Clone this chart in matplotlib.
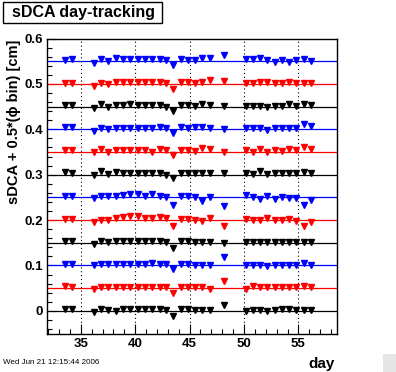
import numpy as np
import matplotlib
matplotlib.use('Agg')
import matplotlib.pyplot as plt
from matplotlib.patches import Rectangle
from matplotlib.ticker import MultipleLocator

plt.rcParams['font.family'] = ['Liberation Sans', 'DejaVu Sans']

# run days (same for every phi bin)
days = [33.56, 34.23, 36.19, 36.87, 37.51, 38.22, 38.89, 39.56, 40.24, 40.91,
        41.58, 42.26, 42.87, 43.48, 44.20, 44.89, 45.51, 46.18, 46.88, 48.17,
        50.19, 50.83, 51.48, 52.15, 52.86, 53.47, 54.15, 54.79, 55.52, 56.19]

# sDCA per phi bin, in units of 0.001 cm
sdca_bin0 = [3, 3, -3, 4, 1, 0, 3, 3, 3, 3, 3, 3, 2, -12, 3, 3,
             2, 2, 2, 12, -1, 2, 2, 0, 2, 4, 4, 2, 2, 2]
sdca_bin1 = [5, 3, -2, 3, 3, 3, 3, 3, 3, 3, 3, 3, 2, -10, 2, 2,
             3, 3, -1, 15, -1, 5, 3, 3, 3, 3, 3, 3, 5, 3]
sdca_bin2 = [4, 3, 0, 3, 3, 3, 3, 3, 3, 3, 6, 3, 3, -8, 3, 3,
             2, 2, 0, 18, 0, 0, 0, -2, 0, 0, 0, 0, 5, 2]
sdca_bin3 = [4, 4, -2, 4, 1, 3, 3, 3, 3, 3, 3, 3, 2, -12, 3, 3,
             2, 2, 2, 0, 2, 2, 2, 2, 2, 2, 2, 2, 1, 2]
sdca_bin4 = [2, 2, -5, 1, 1, 4, 7, 8, 8, 5, 5, 7, 4, -14, 2, 2,
             0, -3, 4, -14, 2, 0, 0, 4, 0, 0, 2, -3, -13, -5]
sdca_bin5 = [3, 3, -1, 4, 3, 3, 6, 7, 7, 4, 7, 4, 1, -16, 4, 3,
             1, -8, 1, -19, 5, 1, -4, 2, -4, 1, -2, -1, -17, -6]
sdca_bin6 = [6, 4, 0, 7, 2, 5, 3, 3, 3, 3, 3, 3, 0, -7, 3, 3,
             3, 4, 3, 4, 3, 1, 7, 1, 3, 3, 3, 3, 6, 4]
sdca_bin7 = [4, 4, 0, 6, 1, 4, 4, 4, 4, 4, 1, 6, 4, -7, 4, 4,
             3, 8, 7, 1, 4, 1, 6, 0, 4, 3, 6, 4, 12, 7]
sdca_bin8 = [5, 6, -4, 3, 0, 3, 3, 3, 3, 3, 3, 6, 3, -8, 6, 3,
             6, 6, 3, 0, 3, 3, 3, -1, 3, 3, 3, 3, 11, 7]
sdca_bin9 = [4, 4, -4, 5, 0, 4, 4, 6, 4, 4, 4, 4, 0, -10, 4, 4,
             2, 5, 4, 2, 2, 2, 2, -1, 2, 2, 5, 2, 5, 4]
sdca_bin10 = [2, 2, -4, 1, -1, 4, 4, 4, 4, 4, 4, 4, 1, -11, 4, 4,
              2, 5, 8, 7, 2, 2, 4, 4, 2, 2, 4, 2, 2, 2]
sdca_bin11 = [2, 4, -3, 5, 0, 8, 5, 5, 5, 5, 5, 5, 2, -8, 5, 2,
              2, 8, 8, 13, 5, 5, 8, 2, -1, 2, -1, 2, 5, 0]

bins = [sdca_bin0, sdca_bin1, sdca_bin2, sdca_bin3, sdca_bin4, sdca_bin5,
        sdca_bin6, sdca_bin7, sdca_bin8, sdca_bin9, sdca_bin10, sdca_bin11]
bin_colors = ['black', 'red', 'blue']
bin_step = 0.05

fig = plt.figure(figsize=(3.96, 3.72), dpi=100)
ax = fig.add_axes([47 / 396, 1 - 333.5 / 372, 289.5 / 396, 295 / 372])

x = np.array(days)
for i, vals in enumerate(bins):
    c = bin_colors[i % 3]
    off = i * bin_step
    ax.axhline(off, color=c, lw=0.9, zorder=2)
    ax.plot(x, np.array(vals) * 0.001 + off, 'v', color=c, ms=4.4,
            mec=c, zorder=3)

ax.set_xlim(31.9, 58.5)
ax.set_ylim(-0.05, 0.6)

ax.xaxis.set_major_locator(MultipleLocator(5))
ax.xaxis.set_minor_locator(MultipleLocator(1))
ax.set_yticks(np.arange(0, 0.61, 0.1))
ax.set_yticklabels(['0', '0.1', '0.2', '0.3', '0.4', '0.5', '0.6'])
ax.yaxis.set_minor_locator(MultipleLocator(0.02))
ax.tick_params(which='both', direction='in', top=False, right=False,
               labelsize=9.5, width=0.8)
ax.tick_params(which='major', length=7, pad=3)
ax.tick_params(which='minor', length=3.5)
for lab in ax.get_xticklabels() + ax.get_yticklabels():
    lab.set_fontweight('bold')

ax.grid(axis='x', which='major', color='black', ls=(0, (1, 2.5)), lw=0.8)
for s in ax.spines.values():
    s.set_linewidth(1)

ax.set_ylabel('sDCA + 0.5*(ϕ bin) [cm]', fontsize=10.5, fontweight='bold',
              loc='top')
ax.yaxis.set_label_coords(-25.5 / 289.5, 0.995)
fig.text(335 / 396, 1 - 364 / 372, 'day', fontsize=11, fontweight='bold',
         ha='right', va='center')

# title box
fig.patches.append(Rectangle((3 / 396, 1 - 23 / 372), 159 / 396, 21 / 372,
                             transform=fig.transFigure, fc='white',
                             ec='black', lw=1))
fig.text(83 / 396, 1 - 12.5 / 372, 'sDCA day-tracking', fontsize=11.5,
         fontweight='bold', ha='center', va='center')

# date stamp
fig.text(3 / 396, 1 - 362 / 372, 'Wed Jun 21 12:15:44 2006', fontsize=5.8,
         ha='left', va='center')

# resize grip corner
fig.patches.append(Rectangle((383 / 396, 0), 13 / 396, 18 / 372,
                             transform=fig.transFigure, fc='#e6e6e6',
                             ec='none'))

fig.savefig('out.png', dpi=100)
